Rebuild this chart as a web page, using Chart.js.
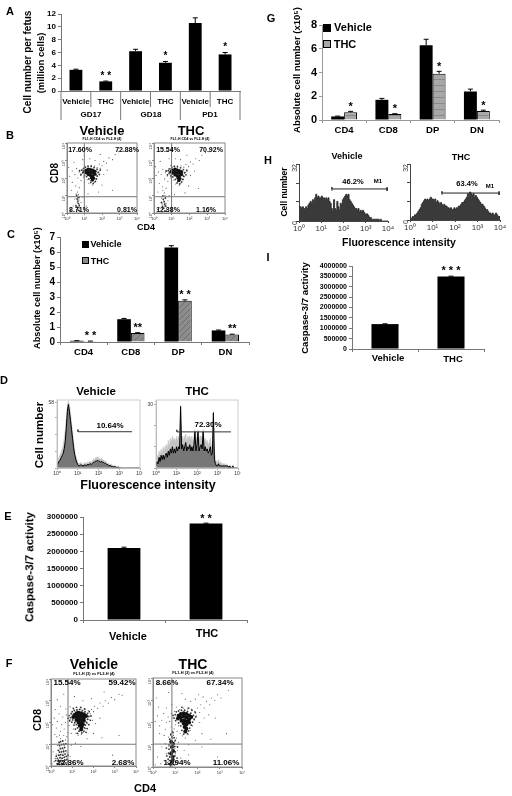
<!DOCTYPE html>
<html>
<head>
<meta charset="utf-8">
<script src="https://cdn.jsdelivr.net/npm/chart.js@4"></script>
<style>
    html, body { margin: 0; background: #fff; }
    #page { position: relative; width: 512px; height: 796px; overflow: hidden; font-family: "Liberation Sans", Arial, sans-serif; font-weight: bold; color: #000; filter: blur(0.35px); }
    canvas { position: absolute; }
    .lbl { position: absolute; white-space: nowrap; line-height: 1; }
    .sq { position: absolute; border: 1px solid #000; box-sizing: border-box; }
</style>
</head>
<body>
<div id="page"></div>
<script>
// Panel A
const aCats = ['Vehicle', 'THC', 'Vehicle', 'THC', 'Vehicle', 'THC'];
const aVals = [3.3, 1.5, 6.2, 4.4, 10.6, 5.7];
const aErrs = [0.1, 0.05, 0.3, 0.2, 0.8, 0.3];
const aStars = ['', '* *', '', '*', '', '*'];

// Panels C and G
const subsets = ['CD4', 'CD8', 'DP', 'DN'];
const cVehicle = [0.08, 1.52, 6.3, 0.77];
const cThc = [0.05, 0.6, 2.75, 0.5];
const cVehicleErr = [0.01, 0.05, 0.12, 0.03];
const cThcErr = [0.01, 0.02, 0.06, 0.02];
const cStars = ['* *', '**', '* *', '**'];
const gVehicle = [0.3, 1.7, 6.3, 2.4];
const gThc = [0.65, 0.5, 3.9, 0.75];
const gVehicleErr = [0.03, 0.12, 0.5, 0.2];
const gThcErr = [0.08, 0.03, 0.2, 0.08];
const gStars = ['*', '*', '*', '*'];

// Panels E and I
const groups = ['Vehicle', 'THC'];
const eVals = [2100000, 2810000];
const eErrs = [20000, 10000];
const eStars = ['', '* *'];
const iVals = [1200000, 3500000];
const iErrs = [15000, 10000];
const iStars = ['', '* * *'];

// Histograms, one value per 0.05 decade
const dVehicleHist = [3,4,6,7,9,11,13,17,24,36,50,56,50,42,34,26,18,12,8,5,3,2,2,3,2,2,2,3,2,3,3,3,4,3,4,5,5,6,6,7,6,6,5,6,5,5,4,4,3,3,2,2,2,1,1,1,1,1,0,1,0,0,0,0,0,0,0,0,0,0,0,0,0,0,0,0,0,0,0,0,0];
const dVehicleHigh = [6,7,9,12,14,17,20,26,34,44,56,59,56,48,40,32,24,16,11,8,5,4,4,5,4,3,4,5,4,5,5,5,6,5,6,8,7,9,9,10,9,8,8,9,7,7,6,6,5,4,4,3,3,3,2,2,2,1,1,1,1,0,1,0,0,0,0,0,0,0,0,0,0,0,0,0,0,0,0,0,0];
const dThcHist = [1,3,2,5,3,6,4,6,4,6,7,5,8,6,9,7,10,7,9,7,10,8,10,9,29,9,11,8,10,12,8,10,9,11,8,10,8,11,17,8,11,17,8,10,11,9,17,8,10,8,9,7,8,10,6,7,26,4,2,1,1,2,1,1,1,1,1,1,1,1,1,0,1,0,0,1,0,0,0,0,0];
const dThcHigh = [3,6,5,8,6,9,7,10,8,10,11,9,13,10,14,12,15,13,14,12,15,13,15,14,29.5,14,15,13,15,16,12,15,14,15,13,15,12,15,18,13,15,18,13,15,15,14,18,13,14,12,13,11,12,14,10,11,26.5,7,4,3,3,4,2,3,2,2,2,2,1,2,1,1,1,1,0,1,0,0,0,0,0];
const hVehicleHist = [8,8,7,8,7,7,8,7,9,10,11,10,12,11,13,15,13,14,13,13,14,13,13,12,13,12,13,11,10,7,5,12,7,6,11,8,6,10,9,12,13,14,15,14,15,12,11,10,9,8,7,7,6,7,5,6,5,6,5,4,4,4,3,2,2,1,1,1,1,1,1,1,0,1,0,0,0,0,0,0,0];
const hThcHist = [1,1,2,2,3,3,4,5,6,7,9,10,11,12,11,12,11,12,13,12,12,11,12,10,11,10,9,10,9,8,9,8,8,7,7,6,7,6,6,7,6,7,7,8,8,9,10,10,11,12,13,15,14,16,15,14,15,13,14,13,12,11,10,9,9,8,7,6,6,5,4,4,3,4,3,3,4,3,2,2,1];

// Marker gates of the histograms [decade, count]
const dVehicleGate = [[1.01, 32], [1.01, 34], [1.01, 32], [3.62, 32]];
const dThcGate = [[1.02, 17], [1.02, 18], [1.02, 17], [3.66, 17]];
const hVehicleGate = [[1.48, 17], [1.48, 19], [1.48, 18], [3.96, 18], [3.96, 19], [3.96, 17]];
const hThcGate = [[1.42, 14.4], [1.42, 16.4], [1.42, 15.4], [3.96, 15.4], [3.96, 16.4], [3.96, 14.4]];

// Dot plots in decades [CD4, CD8]: dense centre, its surroundings, loose events
const bVehicleCore = [[1,2.38],[1.1,2.45],[1.22,2.5],[1.35,2.48],[1.48,2.45],[1.6,2.38],[1.1,2.3],[1.22,2.35],[1.35,2.32],[1.48,2.3],[1.6,2.22],[1.22,2.2],[1.35,2.15],[1.48,2.12],[1.4,2.02],[1.52,1.98],[1.45,1.88]];
const bVehicleHalo = [[0.85,2.45],[0.9,2.3],[0.95,2.55],[1.05,2.62],[1.2,2.68],[1.38,2.66],[1.55,2.6],[1.72,2.5],[1.78,2.32],[1.72,2.12],[1.68,1.95],[1.62,1.8],[1.5,1.68],[1.36,1.75],[1.25,1.95],[1.12,2.08],[1,2.15],[0.72,2.42],[0.8,2.2],[1.85,2.2],[1.9,2.45],[0.6,0.3],[0.65,0.55],[0.58,0.8],[0.66,0.15],[0.52,0.4],[0.62,0.68],[0.7,0.42],[0.55,1],[0.68,0.88]];
const bVehicleDots = [[0.55,0.2],[0.62,0.35],[0.7,0.5],[0.58,0.62],[0.68,0.75],[0.6,0.9],[0.75,0.3],[0.5,0.45],[0.65,1.05],[0.72,0.15],[0.45,0.8],[0.8,0.6],[0.6,1.2],[0.52,1.1],[0.35,0.4],[0.9,0.9],[0.2,0.15],[1.1,0.4],[0.25,1.3],[1.2,1.1],[0.3,2.4],[0.45,2.2],[0.55,2.55],[0.7,2.35],[0.78,2.15],[0.85,2.5],[0.92,2.28],[0.62,2],[0.8,1.85],[0.95,2.05],[1,1.75],[1.15,1.9],[1.25,1.7],[1.35,1.85],[1.45,1.6],[1.55,1.75],[1.68,1.95],[1.75,2.1],[1.82,2.35],[1.9,2.55],[1.72,2.6],[1.58,2.7],[1.38,2.72],[1.2,2.65],[1,2.7],[1.85,2.8],[2,2.7],[2.1,2.95],[2.25,2.85],[2.4,3.15],[2.6,3.05],[2.75,3.35],[2.95,3.5],[1.6,3],[1.3,3.1],[0.9,3.05],[0.4,2.9],[0.15,2.1],[0.1,2.6],[2.1,2.2],[2.3,2.45],[2,1.6],[2.6,1.3],[1.8,1.2],[3.2,3.6],[0.8,3.6],[1.9,3.35],[0.3,1.75],[0.5,1.55],[0.7,1.45]];
const bThcCore = [[0.95,2.36],[1.05,2.44],[1.18,2.5],[1.3,2.46],[1.42,2.42],[1.55,2.36],[1.05,2.28],[1.18,2.33],[1.3,2.3],[1.42,2.27],[1.55,2.2],[1.18,2.18],[1.3,2.13],[1.42,2.1],[1.35,2],[1.46,1.96],[1.4,1.86]];
const bThcHalo = [[0.8,2.42],[0.85,2.28],[0.9,2.52],[1,2.6],[1.15,2.66],[1.32,2.64],[1.5,2.58],[1.66,2.48],[1.72,2.3],[1.66,2.1],[1.62,1.92],[1.56,1.78],[1.45,1.66],[1.3,1.72],[1.2,1.92],[1.06,2.06],[0.95,2.12],[0.68,2.4],[0.76,2.18],[1.8,2.18],[1.85,2.42],[0.55,0.28],[0.6,0.5],[0.52,0.78],[0.62,0.12],[0.48,0.38],[0.58,0.65],[0.66,0.4],[0.5,0.98],[0.64,0.85],[0.42,0.6]];
const bThcDots = [[0.5,0.25],[0.6,0.4],[0.68,0.55],[0.55,0.7],[0.65,0.85],[0.72,0.22],[0.47,0.52],[0.62,1],[0.78,0.7],[0.42,0.85],[0.58,1.15],[0.5,1.3],[0.3,0.3],[0.85,1],[0.2,0.2],[1,0.35],[0.22,1.2],[1.15,1.05],[0.7,0.1],[0.25,2.35],[0.4,2.2],[0.5,2.5],[0.65,2.3],[0.75,2.12],[0.82,2.52],[0.9,2.22],[0.6,1.95],[0.78,1.8],[0.92,2],[0.98,1.72],[1.12,1.88],[1.22,1.66],[1.32,1.82],[1.42,1.58],[1.52,1.72],[1.65,1.92],[1.72,2.08],[1.78,2.32],[1.85,2.5],[1.68,2.62],[1.52,2.7],[1.32,2.7],[1.12,2.68],[0.95,2.72],[1.8,2.78],[1.95,2.65],[2.05,2.92],[2.2,2.8],[2.35,3.1],[2.55,3],[2.7,3.3],[2.9,3.45],[1.5,3.05],[1.2,3.1],[0.85,3.1],[0.35,2.95],[0.12,2.15],[0.08,2.65],[2.05,2.15],[2.28,2.4],[1.95,1.55],[2.5,1.4],[1.75,1.15],[3.1,3.5],[0.75,3.55],[1.85,3.3],[0.3,1.7],[0.48,1.5],[0.68,1.42],[0.45,0.05]];
const fVehicleCore = [[1.1,2.35],[1.2,2.42],[1.3,2.45],[1.42,2.42],[1.55,2.38],[1.65,2.3],[1.05,2.25],[1.18,2.25],[1.3,2.3],[1.42,2.28],[1.55,2.22],[1.2,2.12],[1.32,2.15],[1.45,2.12],[1.55,2.08],[1.3,2],[1.42,1.98],[1.5,1.92],[1.35,1.85],[1.45,1.8],[1.42,1.68]];
const fVehicleHalo = [[0.95,2.4],[1,2.5],[1.1,2.55],[1.22,2.58],[1.35,2.6],[1.48,2.55],[1.6,2.5],[1.72,2.42],[1.78,2.28],[1.72,2.15],[1.68,2],[1.62,1.88],[1.58,1.75],[1.55,1.6],[1.45,1.52],[1.32,1.6],[1.25,1.75],[1.2,1.9],[1.12,2],[1.02,2.12],[0.92,2.22],[0.85,2.32],[0.98,2.02],[1.08,1.88],[1.15,1.7],[1.25,1.5],[1.8,2.5],[1.88,2.3],[1.85,2.1],[1.78,1.9],[1.7,1.72],[1.65,1.55],[0.88,2.08],[0.8,2.2],[1.58,2.62],[1.4,2.7],[1.2,2.7],[1.05,2.65],[0.3,0.1],[0.4,0.08],[0.5,0.12],[0.6,0.1],[0.7,0.14],[0.35,0.22],[0.45,0.25],[0.55,0.22],[0.65,0.28],[0.75,0.3],[0.3,0.35],[0.42,0.38],[0.52,0.36],[0.62,0.4],[0.72,0.44],[0.36,0.5],[0.46,0.52],[0.56,0.5],[0.66,0.55],[0.4,0.64],[0.5,0.66],[0.6,0.68],[0.7,0.7],[0.34,0.72],[0.44,0.8],[0.54,0.82],[0.64,0.85],[0.4,0.95],[0.5,0.98],[0.6,1],[0.7,1.02],[0.45,1.12],[0.55,1.15],[0.38,1.08],[0.25,0.45],[0.22,0.25],[0.8,0.2],[0.8,0.5]];
const fVehicleDots = [[0.45,0.2],[0.55,0.35],[0.4,0.5],[0.6,0.15],[0.5,0.05],[0.35,0.3],[0.65,0.45],[0.48,0.62],[0.58,0.75],[0.42,0.88],[0.52,1],[0.62,0.95],[0.38,0.7],[0.7,0.25],[0.28,0.12],[0.25,0.55],[0.75,0.6],[0.55,1.15],[0.45,1.25],[0.2,0.35],[0.8,0.1],[0.3,0.95],[0.68,1.2],[0.15,0.2],[1,0.2],[0.9,0.45],[1.25,0.15],[0.1,0.65],[0.05,0.1],[0.5,0.27],[0.44,0.41],[0.56,0.55],[0.36,0.17],[0.6,0.62],[0.47,0.78],[0.08,1.9],[0.15,2.2],[0.25,1.75],[0.3,2.05],[0.38,2.4],[0.45,1.6],[0.5,1.9],[0.55,2.25],[0.62,1.7],[0.68,2],[0.72,2.35],[0.8,1.55],[0.85,1.85],[0.9,2.15],[0.95,2.45],[0.18,1.45],[0.28,1.35],[0.4,1.42],[0.6,1.4],[0.75,1.35],[0.95,1.5],[1.05,1.7],[1.12,1.95],[1.18,1.5],[1.28,1.4],[1.42,1.45],[1.52,1.55],[1.62,1.72],[1.7,1.95],[1.78,2.15],[1.85,2.4],[1.75,2.55],[1.6,2.6],[1.42,2.62],[1.25,2.58],[1.08,2.6],[0.9,2.72],[0.7,2.62],[0.45,2.75],[0.2,2.6],[1.9,2.6],[2,2.5],[2.05,2.75],[2.2,2.65],[2.3,2.9],[2.45,2.75],[2.55,3],[2.7,2.9],[2.85,3.15],[3,3.05],[3.2,3.3],[3.35,3.25],[1.95,2.1],[2.1,1.95],[2.3,2.2],[2,1.5],[2.4,1.3],[1.7,1.25],[2.9,0.5],[3.2,1.4],[1.5,3],[1.1,3.2],[0.6,3.3],[1.9,3.1],[0.3,3.05],[2.5,3.4],[1.4,0.9],[1.15,1.05],[0.95,0.95]];
const fThcCore = [[1.15,2.3],[1.25,2.38],[1.38,2.42],[1.5,2.38],[1.62,2.32],[1.72,2.25],[1.12,2.18],[1.25,2.22],[1.38,2.28],[1.5,2.22],[1.62,2.15],[1.28,2.08],[1.4,2.1],[1.52,2.05],[1.62,2],[1.38,1.95],[1.5,1.9],[1.42,1.8],[1.5,1.72],[1.45,1.6],[0.85,0.2],[0.88,0.45],[0.82,0.6],[0.9,0.72],[0.85,0.9],[0.9,1.05],[0.82,1.12],[0.88,0.32]];
const fThcHalo = [[1,2.35],[1.05,2.48],[1.15,2.52],[1.28,2.55],[1.42,2.55],[1.55,2.5],[1.7,2.42],[1.82,2.32],[1.85,2.15],[1.78,2.02],[1.72,1.88],[1.65,1.75],[1.6,1.62],[1.55,1.5],[1.38,1.48],[1.3,1.65],[1.25,1.85],[1.15,1.98],[1.02,2.08],[0.95,2.2],[1.9,2.45],[1.92,2.25],[0.9,2.32],[1.75,2.55],[1.6,2.65],[1.3,2.68],[0.7,0.15],[0.78,0.05],[0.95,0.1],[1.02,0.22],[0.68,0.35],[0.75,0.45],[0.98,0.5],[0.7,0.62],[1,0.68],[0.72,0.8],[0.98,0.92],[0.72,1],[1,1.2],[0.75,1.25],[0.85,1.35],[0.95,1.32],[0.8,1.45],[0.9,1.55],[0.62,0.5],[1.08,0.4],[0.6,0.85],[1.1,0.9]];
const fThcDots = [[0.8,0.1],[0.9,0.2],[0.75,0.3],[0.95,0.35],[0.85,0.42],[0.72,0.55],[1,0.6],[0.78,0.7],[0.98,0.82],[0.72,0.92],[0.82,1],[0.98,1.15],[0.78,1.2],[0.88,1.28],[0.92,1.42],[0.8,1.5],[0.7,1.35],[1.05,1.3],[0.65,0.2],[1.1,0.15],[0.6,0.6],[1.1,0.75],[0.55,1.05],[1.15,1.1],[0.5,0.3],[1.25,0.4],[0.35,0.15],[0.2,0.45],[0.4,0.9],[1.4,0.2],[1.6,0.55],[0.1,0.1],[0.88,1.6],[0.95,1.72],[0.82,1.8],[1,1.9],[0.1,2.05],[0.2,2.3],[0.3,1.85],[0.4,2.1],[0.48,2.4],[0.55,1.7],[0.6,2],[0.68,2.25],[0.75,2.05],[0.82,2.4],[0.9,2.2],[0.98,2.5],[0.3,1.5],[0.5,1.42],[1.08,1.6],[1.15,1.85],[1.22,1.52],[1.32,1.4],[1.45,1.3],[1.58,1.45],[1.68,1.65],[1.78,1.85],[1.85,2.1],[1.95,2.3],[1.88,2.5],[1.72,2.6],[1.55,2.62],[1.38,2.65],[1.2,2.58],[1.05,2.7],[0.85,2.8],[0.6,2.65],[0.25,2.7],[2,2.65],[2.1,2.45],[2.15,2.8],[2.3,2.65],[2.4,2.95],[2.55,2.8],[2.62,3.1],[2.78,3],[2.9,3.25],[3.05,3.1],[1.7,2.95],[1.45,3.05],[1.9,3.05],[2.05,3.25],[2.25,3.15],[2.1,2],[2.3,2.2],[2.5,2.35],[2.2,1.5],[2.6,1.25],[1.9,1.2],[2.9,0.45],[3.3,1.5],[2.2,0.9],[1.3,3.3],[0.7,3.35],[0.15,3.1],[3.4,3.45],[2.8,2.2],[1.6,1],[1.4,0.75]];

// Quadrant gates [decade on CD4, decade on CD8]
const bVehicleGate = [0.99, 0.93];
const bThcGate = [0.99, 0.93];
const fVehicleGate = [0.8, 1.0];
const fThcGate = [0.85, 1.03];

const decadeLabels = ['10⁰', '10¹', '10²', '10³', '10⁴'];
const textLabels = [
    // [text, centre x, centre y, size, rotated]
    ['A', 10, 11, 11], ['B', 10, 135, 11], ['C', 11, 234, 11], ['D', 4, 380, 11], ['E', 8, 516, 11],
    ['F', 9, 663, 11], ['G', 271, 18, 11], ['H', 268, 160, 11], ['I', 268, 257, 11],
    ['Cell number per fetus', 28, 62, 10, 1], ['(million cells)', 41, 63, 9.5, 1],
    ['GD17', 91, 115, 8], ['GD18', 151, 115, 8], ['PD1', 210, 115, 8],
    ['Vehicle', 102, 130, 13], ['THC', 191, 130, 13],
    ['FL1-H CD4 vs FL2-H (4)', 102, 140, 3.5], ['FL1-H CD4 vs FL2-H (4)', 190, 140, 3.5],
    ['17.60%', 80, 149, 7], ['72.88%', 127, 149, 7], ['15.54%', 168, 149, 7], ['70.92%', 211, 149, 7],
    ['8.71%', 79, 209, 7], ['0.81%', 127, 209, 7], ['12.38%', 168, 209, 7], ['1.16%', 206, 209, 7],
    ['CD8', 55, 173, 10, 1], ['CD4', 146, 227, 9],
    ['Absolute cell number (x10⁵)', 38, 288, 9.2, 1], ['Vehicle', 106, 244, 9], ['THC', 100, 261, 9],
    ['Vehicle', 96, 392, 11.5], ['THC', 197, 392, 11.5], ['Cell number', 40, 435, 11.5, 1],
    ['10.64%', 110, 426, 8], ['72.30%', 208, 425, 8], ['Fluorescence intensity', 148, 485, 12.5],
    ['Caspase-3/7 activity', 30, 567, 11.5, 1], ['Vehicle', 128, 636, 11], ['THC', 207, 633, 11],
    ['Vehicle', 94, 664, 14], ['THC', 193, 664, 14],
    ['FL1-H (3) vs FL2-H (4)', 94, 674, 4], ['FL1-H (3) vs FL2-H (4)', 193, 673, 4],
    ['15.54%', 67, 683, 8], ['59.42%', 122, 683, 8], ['8.66%', 167, 683, 8], ['67.34%', 220, 683, 8],
    ['22.36%', 70, 763, 8], ['2.68%', 123, 763, 8], ['12.94%', 177, 763, 8], ['11.06%', 226, 763, 8],
    ['CD8', 37, 720, 11, 1], ['CD4', 145, 788, 11],
    ['Absolute cell number (x10⁵)', 297, 70, 9.5, 1], ['Vehicle', 353, 27, 11], ['THC', 345, 44, 11],
    ['Vehicle', 347, 156, 9], ['THC', 461, 157, 9], ['Cell number', 284, 192, 8.5, 1],
    ['46.2%', 353, 182, 7.5], ['M1', 378, 181, 6], ['63.4%', 467, 184, 7.5], ['M1', 490, 186, 6],
    ['Fluorescence intensity', 399, 242, 10.5],
    ['Caspase-3/7 activity', 305, 308, 9.6, 1], ['Vehicle', 388, 358, 9.5], ['THC', 453, 359, 9.5]
];

const page = document.getElementById('page');

function addLabel(item) {
    const el = document.createElement('div');
    el.className = 'lbl';
    el.textContent = item[0];
    el.style.left = item[1] + 'px';
    el.style.top = item[2] + 'px';
    el.style.fontSize = item[3] + 'px';
    el.style.transform = 'translate(-50%, -50%)' + (item[4] ? ' rotate(-90deg)' : '');
    page.appendChild(el);
}

function addSquare(x, y, size, fill) {
    const el = document.createElement('div');
    el.className = 'sq';
    el.style.cssText = `left:${x}px;top:${y}px;width:${size}px;height:${size}px;background:${fill}`;
    page.appendChild(el);
}

// Grey bars with faint stripes, as in panels C and G
function makeHatch(base, stripe, diagonal) {
    const c = document.createElement('canvas');
    c.width = 6;
    c.height = 6;
    const g = c.getContext('2d');
    g.fillStyle = base;
    g.fillRect(0, 0, 6, 6);
    g.strokeStyle = stripe;
    g.lineWidth = 1;
    g.beginPath();
    if (diagonal) {
        g.moveTo(0, 6); g.lineTo(6, 0);
        g.moveTo(-1, 1); g.lineTo(1, -1);
        g.moveTo(5, 7); g.lineTo(7, 5);
    } else {
        g.moveTo(0, 2.5); g.lineTo(6, 2.5);
    }
    g.stroke();
    return g.createPattern(c, 'repeat');
}

// Error bars and significance stars, placed from the y scale
const barExtras = {
    id: 'barExtras',
    afterDatasetsDraw(chart, args, opts) {
        const ctx = chart.ctx;
        const y = chart.scales.y;
        chart.data.datasets.forEach((ds, d) => {
            chart.getDatasetMeta(d).data.forEach((bar, i) => {
                const top = y.getPixelForValue(ds.data[i] + ds.err[i]);
                ctx.strokeStyle = '#000';
                ctx.lineWidth = 1;
                ctx.beginPath();
                ctx.moveTo(bar.x, y.getPixelForValue(ds.data[i]));
                ctx.lineTo(bar.x, top);
                ctx.moveTo(bar.x - 2.5, top);
                ctx.lineTo(bar.x + 2.5, top);
                ctx.stroke();
                if (ds.stars && ds.stars[i]) {
                    ctx.fillStyle = '#000';
                    ctx.font = `bold ${opts.size}px "Liberation Sans"`;
                    ctx.textAlign = 'center';
                    ctx.textBaseline = 'top';
                    ctx.fillText(ds.stars[i], bar.x, top - opts.lift);
                }
            });
        });
    }
};

// Long dividers under the x axis of panel A
const groupDividers = {
    id: 'groupDividers',
    afterDraw(chart) {
        const x = chart.scales.x;
        const base = chart.chartArea.bottom;
        const step = x.getPixelForValue(1) - x.getPixelForValue(0);
        const ctx = chart.ctx;
        ctx.strokeStyle = '#777';
        ctx.lineWidth = 1;
        ctx.beginPath();
        for (let i = 0; i <= aCats.length; i++) {
            const px = x.getPixelForValue(0) + (i - 0.5) * step;
            ctx.moveTo(px, base);
            ctx.lineTo(px, base + (i % 2 ? 16 : 29));
        }
        ctx.stroke();
    }
};

const boxFrame = {
    id: 'boxFrame',
    afterDraw(chart, args, opts) {
        const a = chart.chartArea;
        chart.ctx.strokeStyle = opts.color;
        chart.ctx.lineWidth = 1;
        chart.ctx.strokeRect(a.left, a.top, a.right - a.left, a.bottom - a.top);
    }
};

// box = [left, top, right, bottom] of the plot area, pad = room left, top, right, bottom
function addChart(box, pad, config) {
    const canvas = document.createElement('canvas');
    canvas.width = box[2] - box[0] + pad[0] + pad[2];
    canvas.height = box[3] - box[1] + pad[1] + pad[3];
    canvas.style.left = (box[0] - pad[0]) + 'px';
    canvas.style.top = (box[1] - pad[1]) + 'px';
    page.appendChild(canvas);
    const fitX = s => { s.height = pad[3]; s.paddingLeft = s.paddingRight = s.paddingTop = s.paddingBottom = 0; };
    const fitY = s => { s.width = pad[0]; s.paddingLeft = s.paddingRight = s.paddingTop = s.paddingBottom = 0; };
    config.options.scales.x.afterFit = fitX;
    config.options.scales.y.afterFit = fitY;
    config.options.responsive = false;
    config.options.animation = false;
    config.options.layout = { padding: { top: pad[1], right: pad[2] } };
    config.options.plugins = Object.assign({ legend: { display: false }, tooltip: { enabled: false } }, config.options.plugins);
    return new Chart(canvas, config);
}

function barAxes(yMax, yStep, color, xSize, ySize, xPad, tickLen) {
    return {
        x: {
            grid: { drawOnChartArea: false, color: color, tickLength: tickLen },
            border: { color: color },
            ticks: { color: '#000', padding: xPad, autoSkip: false, maxRotation: 0, font: { family: 'Liberation Sans', weight: 'bold', size: xSize } }
        },
        y: {
            min: 0,
            max: yMax,
            grid: { drawOnChartArea: false, color: color, tickLength: 3 },
            border: { color: color },
            ticks: { stepSize: yStep, autoSkip: false, color: '#000', padding: 2, font: { family: 'Liberation Sans', weight: 'bold', size: ySize }, callback: v => String(v) }
        }
    };
}

function drawSingleBars(box, pad, cats, vals, errs, stars, yMax, yStep, xSize, ySize, xPad, width, starSize, lift, showX, tickLen) {
    const scales = barAxes(yMax, yStep, '#777', xSize, ySize, xPad, tickLen);
    scales.x.ticks.display = showX;
    return addChart(box, pad, {
        type: 'bar',
        data: { labels: cats, datasets: [{ data: vals, err: errs, stars: stars, backgroundColor: '#000', barPercentage: width, categoryPercentage: 1 }] },
        options: { scales: scales, plugins: { barExtras: { size: starSize, lift: lift } } },
        plugins: [barExtras].concat(box[4] || [])
    });
}

function drawPairedBars(box, pad, vehicle, thc, vErr, tErr, stars, yMax, yStep, hatch, xSize, ySize, width, lift, axisColor) {
    addChart(box, pad, {
        type: 'bar',
        data: {
            labels: subsets,
            datasets: [
                { data: vehicle, err: vErr, backgroundColor: '#000', barPercentage: 1, categoryPercentage: width },
                { data: thc, err: tErr, stars: stars, backgroundColor: hatch, borderColor: '#000', borderWidth: 1, barPercentage: 1, categoryPercentage: width }
            ]
        },
        options: { scales: barAxes(yMax, yStep, axisColor, xSize, ySize, 2, 3), plugins: { barExtras: { size: 11, lift: lift } } },
        plugins: [barExtras]
    });
}

function decadeAxis(size, color, rotate) {
    return {
        type: 'linear',
        min: 0,
        max: 4,
        grid: { drawOnChartArea: false, color: color, tickLength: 2 },
        border: { color: color },
        afterBuildTicks: s => { s.ticks = decadeLabels.map((t, i) => ({ value: i })); },
        ticks: {
            color: '#333', padding: 1, autoSkip: false, minRotation: rotate ? 90 : 0, maxRotation: rotate ? 90 : 0,
            font: { family: 'Liberation Sans', size: size },
            callback: v => decadeLabels[v]
        }
    };
}

function drawDots(box, core, halo, dots, gate, coreRadius) {
    const gateColor = '#777';
    addChart(box, [12, 3, 3, 9], {
        type: 'scatter',
        data: {
            datasets: [
                { data: [[gate[0], 0], [gate[0], 4]], showLine: true, borderColor: gateColor, borderWidth: 1, pointRadius: 0 },
                { data: [[0, gate[1]], [4, gate[1]]], showLine: true, borderColor: gateColor, borderWidth: 1, pointRadius: 0 },
                { data: core, pointRadius: coreRadius, backgroundColor: '#111', borderWidth: 0 },
                { data: halo, pointRadius: 0.9, backgroundColor: '#333', borderWidth: 0 },
                { data: dots, pointRadius: 0.55, backgroundColor: '#555', borderWidth: 0 }
            ]
        },
        options: {
            scales: { x: decadeAxis(4, '#888'), y: decadeAxis(4, '#888', true) },
            plugins: { boxFrame: { color: '#888' } }
        },
        plugins: [boxFrame]
    });
}

function histPoints(vals) {
    return vals.map((v, i) => [i / 20, v]);
}

function drawFlowHist(box, yMax, yTicks, main, high, gate) {
    addChart(box, [12, 3, 3, 10], {
        type: 'line',
        data: {
            datasets: [
                { data: gate, borderColor: '#333', borderWidth: 1, pointRadius: 0, fill: false },
                { data: histPoints(main), borderColor: '#000', borderWidth: 1, backgroundColor: '#777', pointRadius: 0, fill: 'origin' },
                { data: histPoints(high), borderColor: '#c4c4c4', borderWidth: 0.6, backgroundColor: '#c4c4c4', pointRadius: 0, fill: 'origin' }
            ]
        },
        options: {
            scales: {
                x: decadeAxis(5, '#aaa'),
                y: {
                    type: 'linear', min: 0, max: yMax,
                    grid: { drawOnChartArea: false, color: '#aaa', tickLength: 2 },
                    border: { color: '#aaa' },
                    afterBuildTicks: s => { s.ticks = yTicks.map(v => ({ value: v })); },
                    ticks: { color: '#333', padding: 1, font: { family: 'Liberation Sans', size: 5 }, callback: v => (v === yTicks[yTicks.length - 1] ? String(v) : '') }
                }
            },
            plugins: { boxFrame: { color: '#ccc' } }
        },
        plugins: [boxFrame]
    });
}

function drawDarkHist(box, vals, gate) {
    addChart(box, [16, 4, 6, 12], {
        type: 'line',
        data: {
            datasets: [
                { data: gate, borderColor: '#222', borderWidth: 1, pointRadius: 0, fill: false },
                { data: histPoints(vals), stepped: true, borderColor: '#222', borderWidth: 0.8, backgroundColor: '#3a3a3a', pointRadius: 0, fill: 'origin' }
            ]
        },
        options: {
            scales: {
                x: decadeAxis(8, '#444'),
                y: {
                    type: 'linear', min: 0, max: 32,
                    grid: { drawOnChartArea: false, color: '#444', tickLength: 3 },
                    border: { color: '#444' },
                    afterBuildTicks: s => { s.ticks = [0, 10.67, 21.33, 32].map(v => ({ value: v })); },
                    ticks: {
                        color: '#333', padding: 1, minRotation: 90, maxRotation: 90,
                        font: { family: 'Liberation Sans', size: 7 },
                        callback: v => (v === 0 || v === 32 ? String(v) : '')
                    }
                }
            }
        }
    });
}

// Panel A
const aBox = [61, 14, 240, 91];
aBox[4] = groupDividers;
drawSingleBars(aBox, [16, 13, 4, 30], aCats, aVals, aErrs, aStars, 12, 2, 8, 8, 6, 0.43, 10, 10, true, 0);

// Panels C and G
drawPairedBars([60, 237, 249, 342], [18, 8, 3, 14], cVehicle, cThc, cVehicleErr, cThcErr, cStars, 7, 1, makeHatch('#8c8c8c', '#6f6f6f', true), 9.5, 10, 0.577, 10.5, '#777');
drawPairedBars([322, 25, 499, 120], [18, 8, 3, 16], gVehicle, gThc, gVehicleErr, gThcErr, gStars, 8, 2, makeHatch('#a8a8a8', '#8a8a8a', false), 9.5, 11, 0.585, 10, '#999');

// Panels E and I
drawSingleBars([83, 517, 247, 620], [50, 8, 3, 6], groups, eVals, eErrs, eStars, 3000000, 500000, 1, 8, 0, 0.4, 11, 10, false, 3);
drawSingleBars([352, 266, 484, 349], [44, 8, 3, 6], groups, iVals, iErrs, iStars, 4000000, 500000, 1, 7, 0, 0.41, 11, 11, false, 3);

// Dot plots
drawDots([67, 142, 138, 213], bVehicleCore, bVehicleHalo, bVehicleDots, bVehicleGate, 1.7);
drawDots([154, 142, 226, 213], bThcCore, bThcHalo, bThcDots, bThcGate, 1.7);
drawDots([51, 678, 137, 766], fVehicleCore, fVehicleHalo, fVehicleDots, fVehicleGate, 2);
drawDots([153, 677, 243, 767], fThcCore, fThcHalo, fThcDots, fThcGate, 2);

// Histograms
drawFlowHist([57, 400, 140, 468], 60, [0, 15, 30, 45, 58], dVehicleHist, dVehicleHigh, dVehicleGate);
drawFlowHist([156, 400, 238, 468], 32, [0, 10, 20, 30], dThcHist, dThcHigh, dThcGate);
drawDarkHist([299, 164, 388, 221], hVehicleHist, hVehicleGate);
drawDarkHist([410, 164, 500, 220], hThcHist, hThcGate);

// Legends and text on top of the canvases
addSquare(82, 241, 7, '#000');
addSquare(82, 257, 7, '#8c8c8c');
addSquare(323, 24, 8, '#000');
addSquare(323, 40, 8, '#a8a8a8');
textLabels.forEach(addLabel);
</script>
</body>
</html>
